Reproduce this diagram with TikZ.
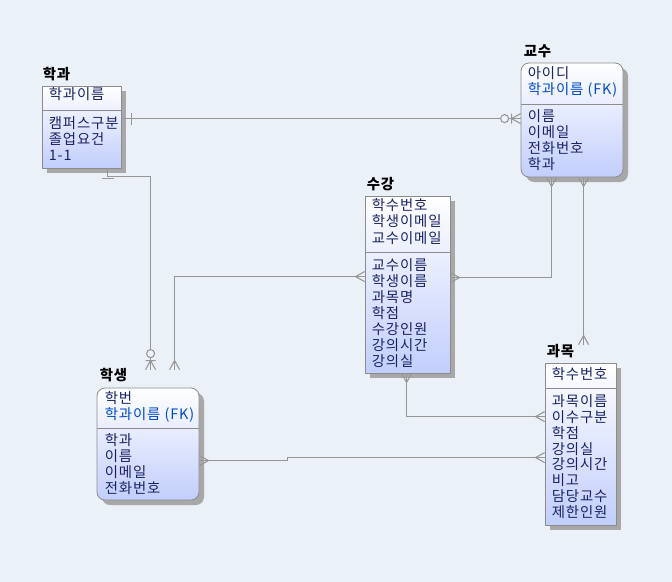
\documentclass[tikz,border=0pt]{standalone}
\usepackage{fontspec}
\setmainfont{Noto Sans CJK KR}[LetterSpace=6]
\usetikzlibrary{calc,fit,shadows,backgrounds,patterns}

\definecolor{bgblue}{RGB}{238,243,250}
\definecolor{bgdot}{RGB}{216,226,240}
\definecolor{entblue}{RGB}{194,206,252}
\definecolor{entline}{RGB}{140,140,140}
\definecolor{shade}{RGB}{168,168,168}
\definecolor{relgray}{RGB}{150,150,150}
\definecolor{attrtext}{RGB}{25,35,100}
\definecolor{fkblue}{RGB}{0,75,200}

\tikzset{
  many/.pic={\draw[rel] (0,-5) -- (9,0) -- (0,5);},
  one/.pic={\draw[rel] (10,-6) -- (10,6);},
  zeromany/.pic={\draw[rel] (0,-5) -- (9,0) -- (0,5) (9,-5) -- (9,5);
                 \draw[rel,fill=bgblue] (16,0) circle[radius=3pt];}
}

\begin{document}
\begin{tikzpicture}[x=0.75pt,y=-0.75pt]
    \tikzstyle{rel}=[draw=relgray, line width=0.8pt]
    \tikzstyle{ent}=[draw=entline, line width=0.6pt, inner sep=0pt, top color=white, bottom color=entblue,
        drop shadow={shadow xshift=3.75pt, shadow yshift=-3.75pt, fill=shade, opacity=1}]
    \tikzstyle{ttl}=[font=\bfseries\fontsize{10.8}{12}\selectfont, inner sep=0pt, anchor=base west]
    \tikzstyle{attr}=[font=\fontsize{10.8}{12}\selectfont, text=attrtext, inner sep=0pt, anchor=base west]
    \tikzstyle{divline}=[draw=entline, line width=0.6pt]
    \useasboundingbox (0,0) rectangle (672,582);

    % entities
    \node[ent, fit={(42,86) (121,168)}] (hakgwa) {};
    \node[ent, rounded corners=6pt, fit={(521,63) (623,177)}] (gyosu) {};
    \node[ent, fit={(365,196) (450,373)}] (sugang) {};
    \node[ent, rounded corners=6pt, fit={(97,388) (199,500)}] (haksaeng) {};
    \node[ent, fit={(545,363) (616,525)}] (gwamok) {};

    % 학과
    \node[ttl] (hakgwa-t) at ($(hakgwa.north west)+(1,-6)$) {학과};
    \node[attr] (hakgwa-h1) at ($(hakgwa.north west)+(7,13.5)$) {학과이름};
    \draw[divline] ($(hakgwa.north west)+(0,25)$) -- ($(hakgwa.north east)+(0,25)$);
    \foreach \t [count=\i] in {캠퍼스구분,졸업요건,1-1}
        \node[attr] (hakgwa-b\i) at ($(hakgwa.north west)+(7,{42.5+16.3*(\i-1)})$) {\t};

    % 교수
    \node[ttl] (gyosu-t) at ($(gyosu.north west)+(3,-6)$) {교수};
    \node[attr] (gyosu-h1) at ($(gyosu.north west)+(7,15.5)$) {아이디};
    \node[attr, text=fkblue] (gyosu-h2) at ($(gyosu.north west)+(7,32)$) {학과이름 (FK)};
    \draw[divline] ($(gyosu.north west)+(0,42)$) -- ($(gyosu.north east)+(0,42)$);
    \foreach \t [count=\i] in {이름,이메일,전화번호,학과}
        \node[attr] (gyosu-b\i) at ($(gyosu.north west)+(7,{59+16*(\i-1)})$) {\t};

    % 수강
    \node[ttl] (sugang-t) at ($(sugang.north west)+(2,-6)$) {수강};
    \foreach \t [count=\i] in {학수번호,학생이메일,교수이메일}
        \node[attr] (sugang-h\i) at ($(sugang.north west)+(7,{14.5+16.5*(\i-1)})$) {\t};
    \draw[divline] ($(sugang.north west)+(0,57)$) -- ($(sugang.north east)+(0,57)$);
    \foreach \t [count=\i] in {교수이름,학생이름,과목명,학점,수강인원,강의시간,강의실}
        \node[attr] (sugang-b\i) at ($(sugang.north west)+(7,{74.5+16*(\i-1)})$) {\t};

    % 학생
    \node[ttl] (haksaeng-t) at ($(haksaeng.north west)+(3,-7)$) {학생};
    \node[attr] (haksaeng-h1) at ($(haksaeng.north west)+(8,15.5)$) {학번};
    \node[attr, text=fkblue] (haksaeng-h2) at ($(haksaeng.north west)+(8,32)$) {학과이름 (FK)};
    \draw[divline] ($(haksaeng.north west)+(0,41)$) -- ($(haksaeng.north east)+(0,41)$);
    \foreach \t [count=\i] in {학과,이름,이메일,전화번호}
        \node[attr] (haksaeng-b\i) at ($(haksaeng.north west)+(8,{57.5+16.2*(\i-1)})$) {\t};

    % 과목
    \node[ttl] (gwamok-t) at ($(gwamok.north west)+(2,-6)$) {과목};
    \node[attr] (gwamok-h1) at ($(gwamok.north west)+(7,16.5)$) {학수번호};
    \draw[divline] ($(gwamok.north west)+(0,26)$) -- ($(gwamok.north east)+(0,26)$);
    \foreach \t [count=\i] in {과목이름,이수구분,학점,강의실,강의시간,비고,담당교수,제한인원}
        \node[attr] (gwamok-b\i) at ($(gwamok.north west)+(7,{44+15.8*(\i-1)})$) {\t};

    % background
    \begin{pgfonlayer}{background}
        \fill[bgblue] (0,0) rectangle (672,582);
        \fill[pattern=crosshatch dots, pattern color=bgdot] (0,0) rectangle (672,582);
    \end{pgfonlayer}

    % relationships
    \draw[rel] ($(hakgwa.north east)+(0,33)$) coordinate (c1a) -- (c1a -| gyosu.west) coordinate (c1b);
    \pic at (c1a) {one};
    \pic[rotate=180] at (c1b) {zeromany};
    \draw[rel] ($(hakgwa.south west)+(66,0)$) coordinate (c2a) -- ++(0,8) -| ($(haksaeng.north west)+(54,-18)$) coordinate (c2b);
    \pic[rotate=-90] at (c2a) {one};
    \pic[rotate=90] at (c2b) {zeromany};
    \draw[rel] ($(sugang.north west)+(0,81)$) coordinate (c3a) -| ($(haksaeng.north west)+(78,-18)$) coordinate (c3b);
    \pic[rotate=180] at (c3a) {many};
    \pic[rotate=90] at (c3b) {many};
    \draw[rel] ($(sugang.north east)+(0,82)$) coordinate (c4a) -| ($(gyosu.south west)+(31,0)$) coordinate (c4b);
    \pic at (c4a) {many};
    \pic[rotate=-90] at (c4b) {many};
    \draw[rel] ($(gyosu.south west)+(63,0)$) coordinate (c5a) -- ($(gwamok.north west)+(39,-18)$) coordinate (c5b);
    \pic[rotate=-90] at (c5a) {many};
    \pic[rotate=90] at (c5b) {many};
    \draw[rel] ($(sugang.south west)+(42,0)$) coordinate (c6a) |- ($(gwamok.north west)+(0,54)$) coordinate (c6b);
    \pic[rotate=-90] at (c6a) {many};
    \pic[rotate=180] at (c6b) {many};
    \draw[rel] ($(haksaeng.north east)+(0,73)$) coordinate (c7a) -- ++(88,0) |- ($(gwamok.north west)+(0,95)$) coordinate (c7b);
    \pic at (c7a) {many};
    \pic[rotate=180] at (c7b) {many};
\end{tikzpicture}
\end{document}
